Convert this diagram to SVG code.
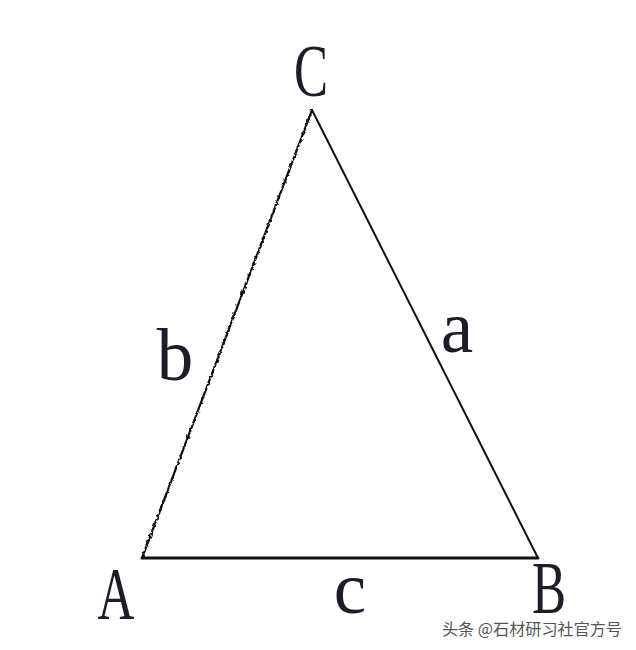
<svg xmlns="http://www.w3.org/2000/svg" width="636" height="650" viewBox="0 0 636 650">
  <defs>
    <filter id="jag" x="-10%" y="-5%" width="120%" height="110%">
      <feTurbulence type="fractalNoise" baseFrequency="0.35" numOctaves="1" seed="3" result="n"/>
      <feDisplacementMap in="SourceGraphic" in2="n" scale="3.5" xChannelSelector="R" yChannelSelector="G"/>
    </filter>
  </defs>
  <style>
    .edge { stroke: #111; fill: none; stroke-linecap: round; }
    .lbl { font-family: 'Liberation Serif', 'Times New Roman', Times, serif; font-size: 73px; fill: #1c1c2a; text-anchor: middle; }
    .wm { font-family: 'Noto Sans CJK SC', 'Noto Sans', sans-serif; font-size: 16px; fill: #555555; }
  </style>
  <rect width="636" height="650" fill="#ffffff"/>
  <g id="edges">
    <path class="edge" d="M142,558 L312,110" stroke-width="2.2" filter="url(#jag)"/>
    <path class="edge" d="M312,110 L538,558" stroke-width="2"/>
    <path class="edge" d="M142,558 L538,558" stroke-width="3"/>
  </g>
  <g id="vertex-A"><text class="lbl" font-family="Liberation Serif, serif" transform="translate(116,619) scale(0.7,1)">A</text></g>
  <g id="vertex-B"><text class="lbl" font-family="Liberation Serif, serif" transform="translate(549,613) scale(0.7,1)">B</text></g>
  <g id="vertex-C"><text class="lbl" font-family="Liberation Serif, serif" transform="translate(311,96) scale(0.7,1)">C</text></g>
  <g id="side-a"><text class="lbl" font-family="Liberation Serif, serif" x="457" y="352">a</text></g>
  <g id="side-b"><text class="lbl" font-family="Liberation Serif, serif" x="175" y="380">b</text></g>
  <g id="side-c"><text class="lbl" font-family="Liberation Serif, serif" x="350" y="613">c</text></g>
  <g id="watermark"><text class="wm" x="442" y="635" textLength="180" lengthAdjust="spacingAndGlyphs">头条 @石材研习社官方号</text></g>
</svg>
